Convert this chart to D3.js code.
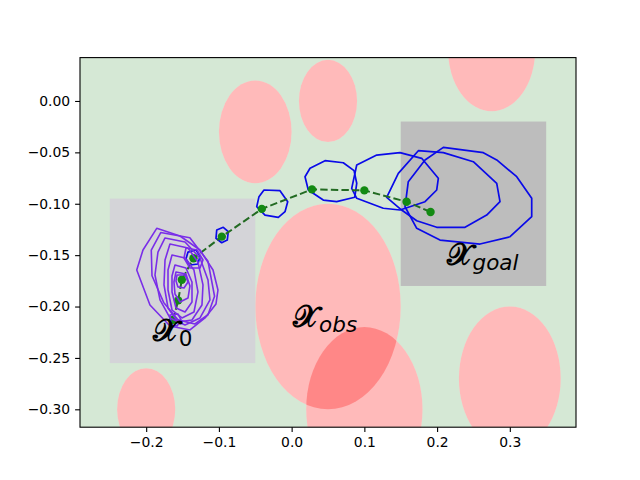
<!DOCTYPE html>
<html>
<head>
<meta charset="utf-8">
<script src="https://cdn.jsdelivr.net/npm/d3@7"></script>
<style>
  body { margin: 0; background: #fff; }
  svg text { font-family: "DejaVu Sans", sans-serif; }
</style>
</head>
<body>
<svg width="640" height="480"></svg>
<script>
(function (d3) {
    'use strict';

    // ticks
    const xTicks = [-0.2, -0.1, 0.0, 0.1, 0.2, 0.3];
    const yTicks = [0.00, -0.05, -0.10, -0.15, -0.20, -0.25, -0.30];

    // obstacles (circles in data units)
    const obsX = [-0.05, 0.05, 0.275, 0.05, 0.10, 0.30, -0.20];
    const obsY = [-0.03, 0.00, 0.05, -0.20, -0.30, -0.27, -0.30];
    const obsR = [0.05, 0.04, 0.06, 0.10, 0.08, 0.07, 0.04];

    // start / goal boxes
    const boxNames = ['start', 'goal'];
    const boxX0 = [-0.25, 0.15];
    const boxX1 = [-0.05, 0.35];
    const boxY0 = [-0.255, -0.18];
    const boxY1 = [-0.095, -0.02];

    // mean trajectory
    const trajX = [-0.163, -0.156, -0.151, -0.135, -0.096, -0.041, 0.028, 0.100, 0.158, 0.191];
    const trajY = [-0.213, -0.194, -0.174, -0.153, -0.132, -0.105, -0.086, -0.087, -0.098, -0.108];

    // level sets around the trajectory nodes, early ones
    const purpleContours = [
        [[-0.1855,-0.1239],[-0.1535,-0.1314],[-0.126,-0.145],[-0.1081,-0.1645],[-0.1013,-0.1839],[-0.104,-0.1975],[-0.1191,-0.2111],[-0.1398,-0.2228],[-0.1673,-0.2189],[-0.1948,-0.1985],[-0.213,-0.1645],[-0.2044,-0.145]],
        [[-0.1741,-0.1333],[-0.1466,-0.1372],[-0.126,-0.1528],[-0.115,-0.1742],[-0.1123,-0.1936],[-0.126,-0.2111],[-0.1466,-0.2179],[-0.1673,-0.2111],[-0.181,-0.1936],[-0.1879,-0.1693],[-0.1838,-0.147]],
        [[-0.1673,-0.1392],[-0.1425,-0.1431],[-0.1288,-0.1567],[-0.1219,-0.179],[-0.1233,-0.1985],[-0.137,-0.2131],[-0.1563,-0.215],[-0.17,-0.2014],[-0.1755,-0.179],[-0.1741,-0.1547]],
        [[-0.1645,-0.1499],[-0.1466,-0.1528],[-0.1343,-0.1645],[-0.1288,-0.1858],[-0.1343,-0.2053],[-0.1508,-0.2111],[-0.1645,-0.2034],[-0.17,-0.1839],[-0.17,-0.1645]],
        [[-0.1604,-0.1596],[-0.1453,-0.1625],[-0.137,-0.1761],[-0.137,-0.1956],[-0.1466,-0.2053],[-0.159,-0.2014],[-0.1645,-0.1858],[-0.1645,-0.1703]],
        [[-0.159,-0.1664],[-0.1453,-0.1684],[-0.1398,-0.18],[-0.1425,-0.1917],[-0.1535,-0.1956],[-0.1604,-0.1878],[-0.1618,-0.1761]],
        [[-0.1576,-0.1693],[-0.1466,-0.1693],[-0.1425,-0.1761],[-0.148,-0.1819],[-0.1563,-0.1809],[-0.159,-0.1751]],
        [[-0.1673,-0.2082],[-0.1563,-0.2072],[-0.1521,-0.2131],[-0.1576,-0.2189],[-0.1659,-0.2179]],
        [[-0.1453,-0.1431],[-0.1301,-0.145],[-0.1219,-0.1547],[-0.126,-0.1625],[-0.1398,-0.1625],[-0.148,-0.1528]],
        [[-0.1800,-0.1280],[-0.1400,-0.1330],[-0.1150,-0.1560],[-0.1060,-0.1900],[-0.1150,-0.2080],[-0.1330,-0.2170],[-0.1560,-0.2130],[-0.1760,-0.1960],[-0.1920,-0.1700],[-0.1930,-0.1450]]
    ];

    // later ones
    const blueContours = [
        [[-0.1425,-0.147],[-0.1315,-0.145],[-0.126,-0.1508],[-0.1288,-0.1586],[-0.1398,-0.1596],[-0.1453,-0.1537]],
        [[-0.103,-0.1255],[-0.094,-0.1229],[-0.0871,-0.1272],[-0.0885,-0.1353],[-0.0962,-0.1379],[-0.104,-0.1336]],
        [[-0.038,-0.0866],[-0.016,-0.0873],[-0.0054,-0.098],[-0.0091,-0.1077],[-0.0183,-0.1132],[-0.0366,-0.111],[-0.048,-0.1029],[-0.0449,-0.0931]],
        [[0.0253,-0.0655],[0.0459,-0.0581],[0.071,-0.0601],[0.0858,-0.0678],[0.0895,-0.0801],[0.0868,-0.0937],[0.062,-0.098],[0.0435,-0.0964],[0.0229,-0.0866],[0.0184,-0.0737]],
        [[0.0895,-0.0623],[0.117,-0.0526],[0.149,-0.0503],[0.1788,-0.0558],[0.2017,-0.0752],[0.1995,-0.0866],[0.1834,-0.098],[0.149,-0.1061],[0.126,-0.1044],[0.0895,-0.0947],[0.0826,-0.085]],
        [[0.1742,-0.0484],[0.2086,-0.0503],[0.2498,-0.0591],[0.282,-0.0801],[0.2865,-0.098],[0.2682,-0.111],[0.2384,-0.1229],[0.1995,-0.1229],[0.172,-0.1165],[0.1513,-0.1061],[0.1307,-0.0937],[0.1467,-0.0704]],
        [[0.2086,-0.0451],[0.2636,-0.0503],[0.282,-0.0574],[0.3095,-0.0737],[0.3301,-0.0947],[0.3301,-0.1126],[0.3003,-0.1321],[0.259,-0.1392],[0.204,-0.1353],[0.172,-0.1239],[0.1559,-0.1029],[0.1604,-0.0785],[0.1834,-0.0574]]
    ];

    // region labels
    const labelSub = ['0', 'obs', 'goal'];
    const labelX = [-0.191, 0.002, 0.213];
    const labelY = [-0.234, -0.2196, -0.1596];

    const svg = d3.select('svg');
    const margin = { top: 57.6, right: 64, bottom: 52.8, left: 80 };
    const width = +svg.attr('width');
    const height = +svg.attr('height');
    const innerWidth = width - margin.left - margin.right;
    const innerHeight = height - margin.top - margin.bottom;

    const xScale = d3.scaleLinear()
          .domain([-0.291, 0.391])
          .range([0, innerWidth]);
    const yScale = d3.scaleLinear()
          .domain([-0.3174, 0.0422])
          .range([innerHeight, 0]);

    svg.append('rect')
        .attr('width', width).attr('height', height)
        .attr('fill', 'white');

    svg.append('defs').append('clipPath')
        .attr('id', 'plot-clip')
      .append('rect')
        .attr('width', innerWidth)
        .attr('height', innerHeight);

    const g = svg.append('g')
          .attr('transform', `translate(${margin.left},${margin.top})`);

    const plot = g.append('g').attr('clip-path', 'url(#plot-clip)');

    // free space
    plot.append('rect')
        .attr('width', innerWidth)
        .attr('height', innerHeight)
        .attr('fill', '#d5e8d5');

    const obstacles = obsX.map((x, i) => ({ x, y: obsY[i], r: obsR[i] }));
    const kx = xScale(1) - xScale(0);
    const ky = yScale(0) - yScale(1);

    // white under-layer so the translucent red reads pink, overlaps darker
    plot.selectAll('.obs-base').data(obstacles)
      .enter().append('ellipse')
        .attr('class', 'obs-base')
        .attr('cx', d => xScale(d.x))
        .attr('cy', d => yScale(d.y))
        .attr('rx', d => d.r * kx)
        .attr('ry', d => d.r * ky)
        .attr('fill', 'white');
    plot.selectAll('.obs').data(obstacles)
      .enter().append('ellipse')
        .attr('class', 'obs')
        .attr('cx', d => xScale(d.x))
        .attr('cy', d => yScale(d.y))
        .attr('rx', d => d.r * kx)
        .attr('ry', d => d.r * ky)
        .attr('fill', 'red')
        .attr('fill-opacity', 0.27);

    const boxes = boxNames.map((name, i) => ({
        name, x0: boxX0[i], x1: boxX1[i], y0: boxY0[i], y1: boxY1[i]
    }));
    plot.selectAll('.box').data(boxes)
      .enter().append('rect')
        .attr('class', 'box')
        .attr('x', d => xScale(d.x0))
        .attr('y', d => yScale(d.y1))
        .attr('width', d => xScale(d.x1) - xScale(d.x0))
        .attr('height', d => yScale(d.y0) - yScale(d.y1))
        .attr('fill', d => d.name === 'goal' ? '#bdbdbd' : '#d4d4d8');

    const contourLine = d3.line()
          .x(d => xScale(d[0]))
          .y(d => yScale(d[1]))
          .curve(d3.curveLinearClosed);

    plot.selectAll('.blue-c').data(blueContours)
      .enter().append('path')
        .attr('class', 'blue-c')
        .attr('d', contourLine)
        .attr('fill', 'none')
        .attr('stroke', '#0a0ae8')
        .attr('stroke-width', 1.7)
        .attr('stroke-linejoin', 'round');

    const traj = trajX.map((x, i) => [x, trajY[i]]);
    plot.append('path')
        .datum(traj)
        .attr('d', d3.line().x(d => xScale(d[0])).y(d => yScale(d[1])))
        .attr('fill', 'none')
        .attr('stroke', '#236b23')
        .attr('stroke-width', 2)
        .attr('stroke-dasharray', '7.4,3.2');
    plot.selectAll('.node').data(traj)
      .enter().append('circle')
        .attr('class', 'node')
        .attr('cx', d => xScale(d[0]))
        .attr('cy', d => yScale(d[1]))
        .attr('r', 4.2)
        .attr('fill', '#138a13');

    plot.selectAll('.purple-c').data(purpleContours)
      .enter().append('path')
        .attr('class', 'purple-c')
        .attr('d', contourLine)
        .attr('fill', 'none')
        .attr('stroke', '#7a2ee8')
        .attr('stroke-width', 1.6)
        .attr('stroke-linejoin', 'round');

    // region labels, like $\mathcal{X}_{obs}$
    const labels = g.selectAll('.region-label')
          .data(labelSub.map((s, i) => ({ s, x: labelX[i], y: labelY[i] })))
          .enter().append('text')
          .attr('class', 'region-label')
          .attr('x', d => xScale(d.x))
          .attr('y', d => yScale(d.y))
          .attr('fill', 'black');
    labels.append('tspan')
        .style('font-family', '"DejaVu Sans", serif')
        .style('font-size', '30px')
        .style('font-weight', 'bold')
        .text('\u{1D4B3}');
    labels.append('tspan')
        .attr('dy', 5)
        .style('font-size', '21.5px')
        .style('font-style', d => d.s === '0' ? 'normal' : 'italic')
        .text(d => d.s);

    // axes
    const xAxisG = g.append('g')
          .attr('transform', `translate(0,${innerHeight})`)
          .call(d3.axisBottom(xScale)
                .tickValues(xTicks)
                .tickFormat(d3.format('.1f'))
                .tickSize(4.9)
                .tickPadding(4.9));
    const yAxisG = g.append('g')
          .call(d3.axisLeft(yScale)
                .tickValues(yTicks)
                .tickFormat(d3.format('.2f'))
                .tickSize(4.9)
                .tickPadding(4.9));
    [xAxisG, yAxisG].forEach(a => {
        a.select('.domain').remove();
        a.selectAll('text')
            .style('font-family', '"DejaVu Sans", sans-serif')
            .style('font-size', '13.9px')
            .attr('fill', 'black');
        a.selectAll('line').attr('stroke', 'black').attr('stroke-width', 1.1);
    });

    g.append('rect')
        .attr('width', innerWidth)
        .attr('height', innerHeight)
        .attr('fill', 'none')
        .attr('stroke', 'black')
        .attr('stroke-width', 1.1);

}(d3));
</script>
</body>
</html>
